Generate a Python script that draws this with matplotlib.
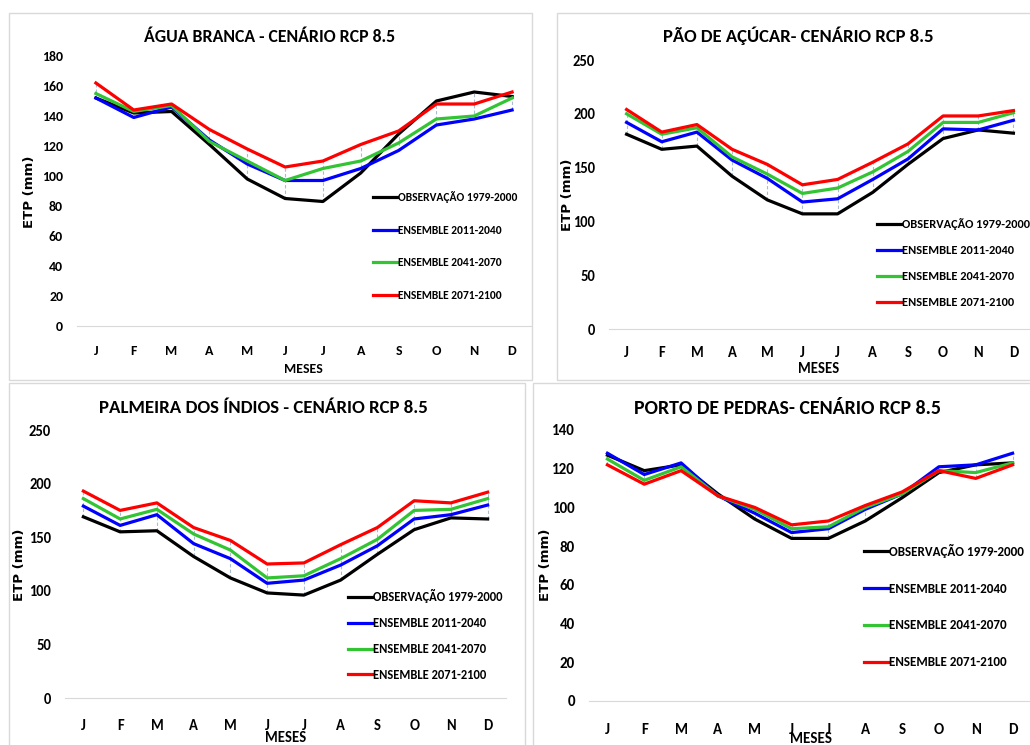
import numpy as np
import matplotlib
matplotlib.use("Agg")
from matplotlib import pyplot as plt
from matplotlib import font_manager

W, H = 1030, 745

# fonte parecida com Calibri (se houver)
installed = {f.name for f in font_manager.fontManager.ttflist}
preferidas = ["Carlito", "Open Sans Condensed", "Roboto Condensed", "PT Sans Narrow",
              "Archivo Narrow", "Liberation Sans Narrow"]
fonte = [f for f in preferidas if f in installed][:1]
plt.rcParams['font.family'] = fonte + ['DejaVu Sans']
plt.rcParams['font.weight'] = 'bold'
escala = 1.0 if fonte else 0.8

meses = ["J", "F", "M", "A", "M", "J", "J", "A", "S", "O", "N", "D"]
series_labels = ["OBSERVAÇÃO 1979-2000", "ENSEMBLE 2011-2040",
                 "ENSEMBLE 2041-2070", "ENSEMBLE 2071-2100"]
series_colors = ["#000000", "#0000ff", "#33c433", "#ff0000"]

# Agua Branca
ab_obs = [152, 142, 143, 121, 98, 85, 83, 102, 128, 150, 156, 153]
ab_e1 = [152, 139, 146, 124, 108, 97, 97, 105, 117, 134, 138, 144]
ab_e2 = [155, 143, 147, 123, 110, 97, 105, 110, 122, 138, 140, 152]
ab_e3 = [162, 144, 148, 131, 118, 106, 110, 121, 130, 148, 148, 156]

# Pao de Acucar
pa_obs = [181, 167, 170, 142, 120, 107, 107, 127, 153, 177, 185, 182]
pa_e1 = [192, 174, 183, 157, 140, 118, 121, 139, 158, 186, 185, 194]
pa_e2 = [200, 181, 187, 160, 144, 126, 131, 146, 165, 192, 192, 201]
pa_e3 = [204, 183, 190, 167, 153, 134, 139, 155, 172, 198, 198, 203]

# Palmeira dos Indios
pi_obs = [169, 155, 156, 132, 112, 98, 96, 110, 134, 157, 168, 167]
pi_e1 = [179, 161, 171, 144, 130, 107, 110, 124, 142, 167, 171, 180]
pi_e2 = [186, 167, 176, 153, 138, 112, 114, 130, 148, 175, 176, 186]
pi_e3 = [193, 175, 182, 159, 147, 125, 126, 143, 159, 184, 182, 192]

# Porto de Pedras
pp_obs = [127, 119, 122, 107, 94, 84, 84, 93, 105, 118, 122, 123]
pp_e1 = [128, 117, 123, 106, 97, 87, 89, 99, 107, 121, 122, 128]
pp_e2 = [125, 114, 121, 106, 99, 89, 90, 100, 107, 119, 118, 123]
pp_e3 = [122, 112, 119, 106, 100, 91, 93, 101, 108, 119, 115, 122]


def fx(x):
    return x / W


def fy(y):
    return 1 - y / H


def panel(fig, box, rect, ymax, ystep, series, title, title_xy, title_fs, tick_fs,
          xpad, meses_xy, ylab_xy, leg_xy, leg_fs, leg_space):
    # moldura do painel
    bx0, by0, bx1, by1 = box
    fig.patches.append(plt.Rectangle((fx(bx0), fy(by1)), fx(bx1 - bx0), (by1 - by0) / H,
                                     transform=fig.transFigure, fill=False,
                                     edgecolor="#d9d9d9", lw=1))
    l, t, r, b = rect
    ax = fig.add_axes([fx(l), fy(b), fx(r - l), (b - t) / H])
    x = np.arange(12)
    arr = np.array(series)
    # linhas de maximo-minimo (tracejadas)
    ax.vlines(x, arr.min(axis=0), arr.max(axis=0), colors="#a9bcd0",
              linestyles=(0, (3, 2)), lw=0.8, zorder=1)
    for s, c, lab in zip(series, series_colors, series_labels):
        ax.plot(x, s, color=c, lw=2.3, label=lab, zorder=2)
    ax.set_xlim(-0.5, 11.5)
    ax.set_ylim(0, ymax)
    ax.set_yticks(np.arange(0, ymax + 1, ystep))
    ax.set_xticks(x)
    ax.set_xticklabels(meses)
    for sp in ["top", "right", "left"]:
        ax.spines[sp].set_visible(False)
    ax.spines["bottom"].set_color("#d9d9d9")
    ax.tick_params(axis="both", length=0, labelsize=tick_fs * escala)
    ax.tick_params(axis="x", pad=xpad)
    ax.tick_params(axis="y", pad=10)
    for lb in ax.get_xticklabels() + ax.get_yticklabels():
        lb.set_fontweight("bold")
    ax.patch.set_alpha(0)
    fig.text(fx(title_xy[0]), fy(title_xy[1]), title, ha="center", va="center",
             fontsize=title_fs * escala, fontweight="bold")
    fig.text(fx(meses_xy[0]), fy(meses_xy[1]), "MESES", ha="center", va="center",
             fontsize=tick_fs * escala, fontweight="bold")
    fig.text(fx(ylab_xy[0]), fy(ylab_xy[1]), "ETP (mm)", ha="center", va="center",
             rotation=90, fontsize=9.5, fontweight="bold", family="DejaVu Sans")
    leg_px = leg_fs * escala * 100 / 72
    ax.legend(loc="center left", bbox_to_anchor=(fx(leg_xy[0]), fy(leg_xy[1])),
              bbox_transform=fig.transFigure, frameon=False,
              handlelength=24 / leg_px, handletextpad=0.05, borderpad=0, borderaxespad=0,
              labelspacing=leg_space, prop={"weight": "bold", "size": leg_fs * escala})
    return ax


fig = plt.figure(figsize=(W / 100, H / 100), dpi=100)

panel(fig, (9, 13, 532, 380), (77, 56, 531, 326), 180, 20,
      [ab_obs, ab_e1, ab_e2, ab_e3], "ÁGUA BRANCA - CENÁRIO RCP 8.5",
      (270, 37), 12.8, 10, 14, (303, 369), (30, 192), (373, 246), 8.3, 1.9)
panel(fig, (557, 13, 1040, 380), (609, 60, 1031, 329), 250, 50,
      [pa_obs, pa_e1, pa_e2, pa_e3], "PÃO DE AÇÚCAR- CENÁRIO RCP 8.5",
      (798, 36), 13.4, 10.5, 12.5, (819, 369), (567, 195), (877, 263), 8.9, 1.22)
panel(fig, (9, 383, 525, 750), (65, 430, 506, 698), 250, 50,
      [pi_obs, pi_e1, pi_e2, pi_e3], "PALMEIRA DOS ÍNDIOS - CENÁRIO RCP 8.5",
      (263, 408), 13.6, 10.5, 15, (286, 738), (19, 565), (348, 635), 9.0, 1.1)
panel(fig, (533, 383, 1040, 750), (589, 430, 1031, 701), 140, 20,
      [pp_obs, pp_e1, pp_e2, pp_e3], "PORTO DE PEDRAS- CENÁRIO RCP 8.5",
      (788, 408), 14.3, 10.8, 16, (811, 739), (545, 565), (864, 606), 9.4, 1.9)

fig.savefig("out.png", dpi=100)
